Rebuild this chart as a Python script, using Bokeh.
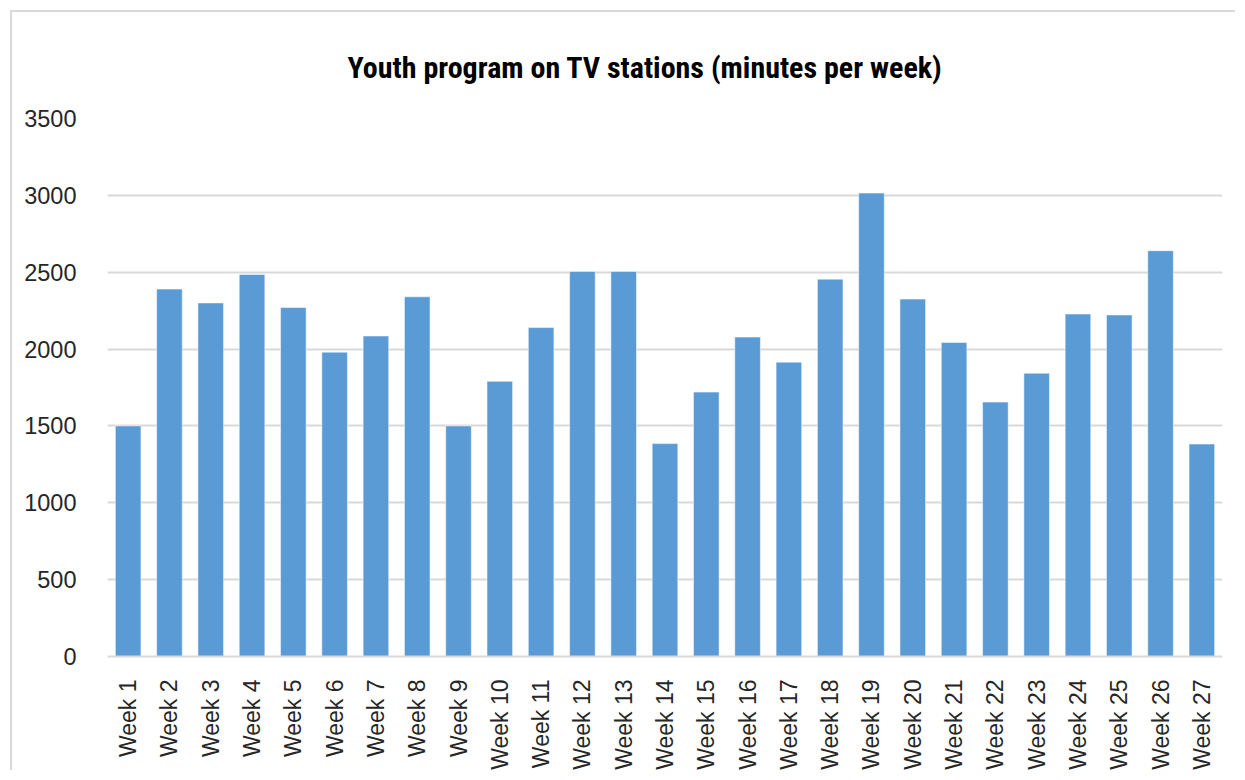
import math
from bokeh.plotting import figure
from bokeh.models import Range1d, SingleIntervalTicker, ColumnDataSource
from bokeh.embed import file_html
from bokeh.resources import INLINE

weeks = [f"Week {i}" for i in range(1, 28)]
minutes = [1500, 2390, 2300, 2485, 2270, 1980, 2085, 2340, 1500, 1790,
           2140, 2505, 2505, 1385, 1720, 2078, 1915, 2455, 3015, 2325,
           2043, 1655, 1843, 2228, 2222, 2640, 1382]
title_text = "Youth program on TV stations (minutes per week)"

src = ColumnDataSource(data=dict(week=weeks, minutes=minutes))

p = figure(x_range=weeks, y_range=Range1d(0, 3500), width=1225, height=760,
           output_backend="svg", toolbar_location=None,
           min_border_left=95, min_border_right=15, min_border_top=106,
           min_border_bottom=113, title=title_text)
p.margin = (12, 0, 0, 12)
p.styles = {"box-shadow": "-2px -2px 0 0 #d9d9d9"}
p.x_range.range_padding = 0

p.vbar(x="week", top="minutes", width=0.62, source=src,
       fill_color="#5B9BD5", line_color="white", line_alpha=0.5, line_width=1)

p.title.text_font = "Roboto Condensed, DejaVu Sans Condensed, Liberation Sans Narrow, Roboto"
p.title.text_font_size = "30px"
p.title.text_font_style = "bold"
p.title.text_color = "#000000"
p.title.align = "left"
p.title.offset = 240
p.title.standoff = 67

p.outline_line_color = None
p.xgrid.grid_line_color = None
p.ygrid.grid_line_color = "#d9d9d9"
p.ygrid.grid_line_width = 2

p.yaxis.ticker = SingleIntervalTicker(interval=500)
p.yaxis.axis_line_color = None
p.yaxis.major_tick_line_color = None
p.yaxis.minor_tick_line_color = None
p.yaxis.major_label_standoff = 25
p.yaxis.major_label_text_font = "Liberation Sans"
p.yaxis.major_label_text_font_size = "23.5px"
p.yaxis.major_label_text_color = "#262626"

p.xaxis.axis_line_color = "#d9d9d9"
p.xaxis.axis_line_width = 2
p.xaxis.major_tick_line_color = None
p.xaxis.minor_tick_line_color = None
p.xaxis.major_label_orientation = math.pi / 2
p.xaxis.major_label_standoff = 17
p.xaxis.major_label_text_font = "Liberation Sans"
p.xaxis.major_label_text_font_size = "23px"
p.xaxis.major_label_text_color = "#262626"

open("out.html", "w").write(file_html(p, INLINE))
